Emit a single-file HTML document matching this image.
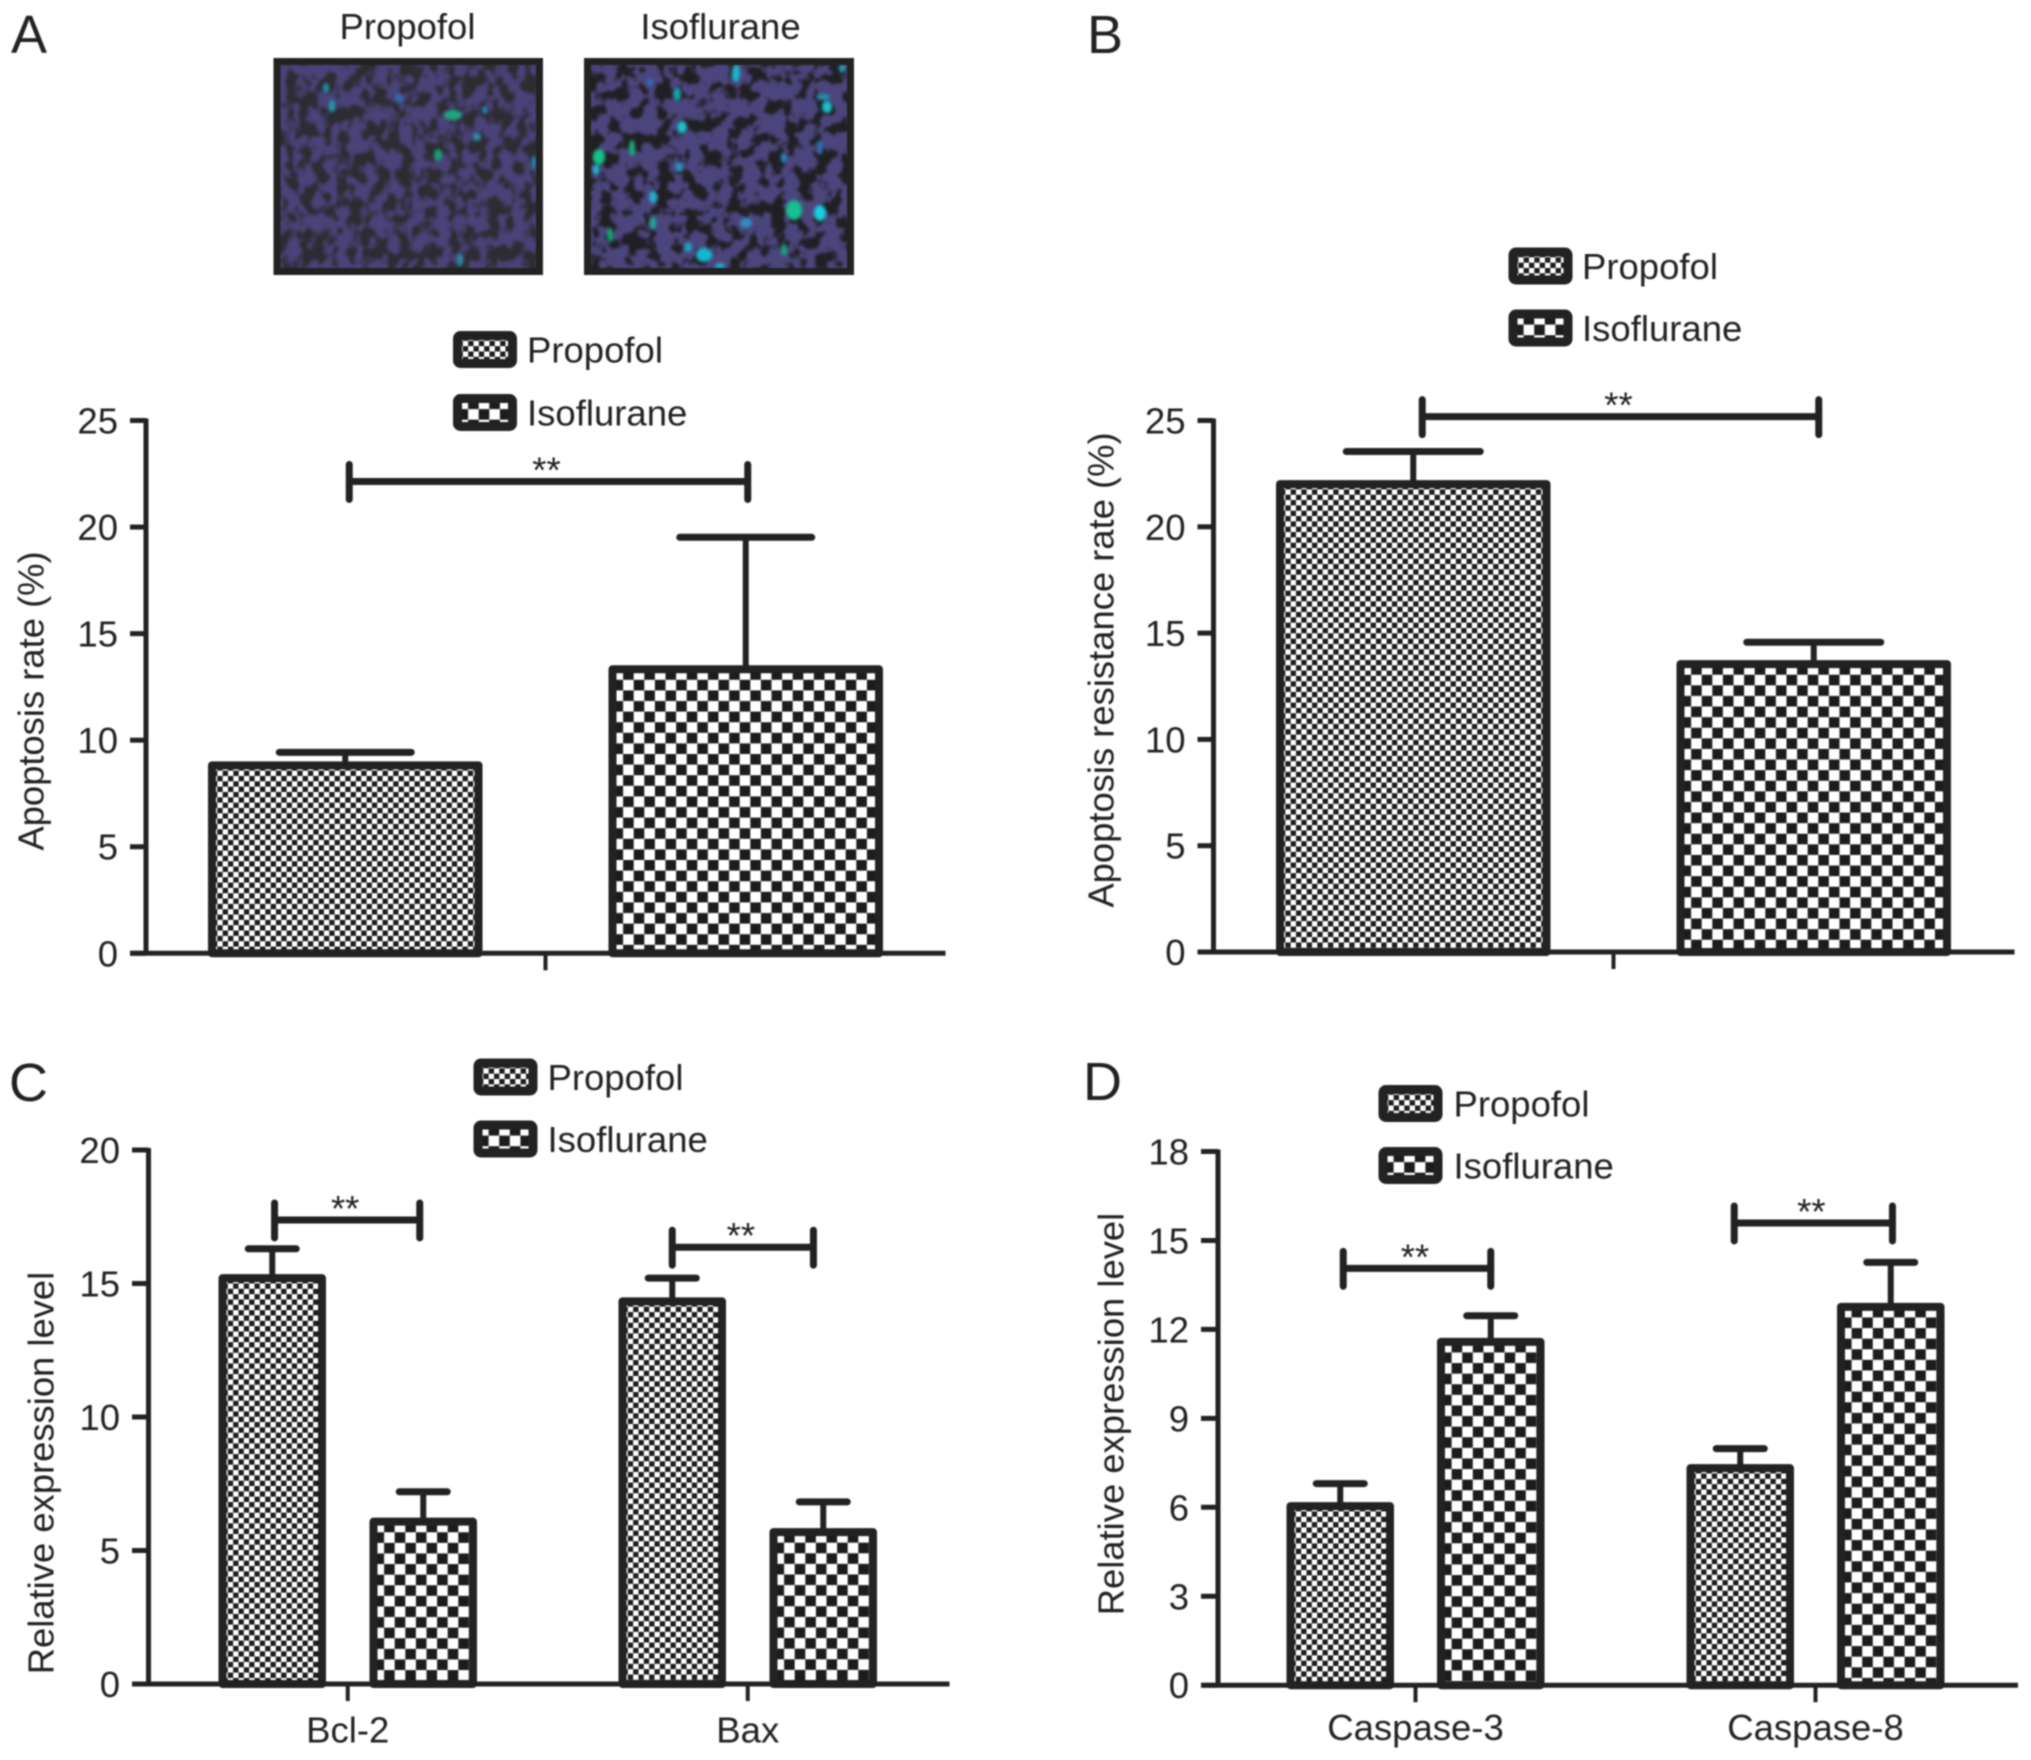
<!DOCTYPE html>
<html lang="en">
<head>
<meta charset="utf-8">
<title>Apoptosis and expression charts</title>
<style>
html,body{margin:0;padding:0;background:#fff;}
#figure{display:block;width:2031px;height:1760px;filter:blur(0.7px);}
text{font-family:"Liberation Sans",Arial,sans-serif;fill:#222;font-size:36.5px;}
.letter{font-size:54px;}
.ytitle{font-size:36.4px;}
</style>
</head>
<body>
<svg id="figure" xmlns="http://www.w3.org/2000/svg" width="2031" height="1760" viewBox="0 0 2031 1760">
<defs>
<filter id="cellsA" x="0" y="0" width="100%" height="100%" color-interpolation-filters="sRGB">
<feTurbulence type="fractalNoise" baseFrequency="0.08 0.065" numOctaves="2" seed="4"/>
<feColorMatrix type="matrix" values="0 0 0 0 0.29  0 0 0 0 0.26  0 0 0 0 0.47  6 0 0 0 -2.4"/>
<feGaussianBlur stdDeviation="1.2"/>
</filter>
<filter id="cellsB" x="0" y="0" width="100%" height="100%" color-interpolation-filters="sRGB">
<feTurbulence type="fractalNoise" baseFrequency="0.07 0.06" numOctaves="3" seed="11"/>
<feColorMatrix type="matrix" values="0 0 0 0 0.30  0 0 0 0 0.27  0 0 0 0 0.49  9 0 0 0 -3.6"/>
<feGaussianBlur stdDeviation="1.2"/>
</filter>
<filter id="soft" x="-50%" y="-50%" width="200%" height="200%"><feGaussianBlur stdDeviation="1.6"/></filter>
<clipPath id="clipMicroA"><rect x="273.5" y="58" width="269.5" height="217"/></clipPath>
<clipPath id="clipMicroB"><rect x="584" y="58" width="270" height="217"/></clipPath>
</defs>
<rect width="2031" height="1760" fill="#fff"/>

<text class="letter" x="11" y="53">A</text>
<text class="letter" x="1087" y="53">B</text>
<text class="letter" x="9" y="1101">C</text>
<text class="letter" x="1083" y="1100">D</text>

<text x="407.5" y="39" text-anchor="middle">Propofol</text>
<text x="720.5" y="39" text-anchor="middle">Isoflurane</text>

<g id="microA" clip-path="url(#clipMicroA)">
<rect x="273.5" y="58" width="269.5" height="217" fill="#2d2c33"/>
<rect x="273.5" y="58" width="269.5" height="217" filter="url(#cellsA)"/>
<g id="spotsA" filter="url(#soft)" transform="translate(-1 0)"></g>
</g>
<rect x="277" y="61.5" width="262.5" height="210" fill="none" stroke="#222" stroke-width="7"/>

<g id="microB" clip-path="url(#clipMicroB)">
<rect x="584" y="58" width="270" height="217" fill="#202024"/>
<rect x="584" y="58" width="270" height="217" filter="url(#cellsB)"/>
<g id="spotsB" filter="url(#soft)" transform="translate(-4 0)"></g>
</g>
<rect x="587.5" y="61.5" width="263" height="210" fill="none" stroke="#222" stroke-width="7"/>

<g id="charts"></g>
</svg>
<script>
// ---- Panel A data ----
const aCategories = [''];
const aPropofol = [8.82];
const aPropofolErr = [9.43];
const aIsoflurane = [13.33];
const aIsofluraneErr = [19.52];
const aSignificance = [22.14];
const aTickLabels = ['0', '5', '10', '15', '20', '25'];

// ---- Panel B data ----
const bCategories = [''];
const bPropofol = [22.01];
const bPropofolErr = [23.54];
const bIsoflurane = [13.54];
const bIsofluraneErr = [14.57];
const bSignificance = [25.18];
const bTickLabels = ['0', '5', '10', '15', '20', '25'];

// ---- Panel C data ----
const cCategories = ['Bcl-2', 'Bax'];
const cPropofol = [15.2, 14.33];
const cPropofolErr = [16.3, 15.2];
const cIsoflurane = [6.08, 5.69];
const cIsofluraneErr = [7.2, 6.82];
const cSignificance = [17.38, 16.36];
const cTickLabels = ['0', '5', '10', '15', '20'];

// ---- Panel D data ----
const dCategories = ['Caspase-3', 'Caspase-8'];
const dPropofol = [6.04, 7.32];
const dPropofolErr = [6.8, 7.98];
const dIsoflurane = [11.58, 12.76];
const dIsofluraneErr = [12.46, 14.26];
const dSignificance = [14.06, 15.59];
const dTickLabels = ['0', '3', '6', '9', '12', '15', '18'];

// ---- Layout per panel ----
const panels = [
  {id:'a', title:'Apoptosis rate (%)', categories:aCategories, propofol:aPropofol, propofolErr:aPropofolErr, isoflurane:aIsoflurane, isofluraneErr:aIsofluraneErr, significance:aSignificance, ticks:aTickLabels,
   axisX:146, tickLeft:130, axisRight:945.5, y0:953.3, yTop:420.5, barStart:212, seriesStep:400.5, catStep:0, barW:266.5, capW:138, nudge:[[4,2]],
   titleX:34, titleY:701, catBaseline:0, legendX:453, legendY:[331,394], legendTextX:527},
  {id:'b', title:'Apoptosis resistance rate (%)', categories:bCategories, propofol:bPropofol, propofolErr:bPropofolErr, isoflurane:bIsoflurane, isofluraneErr:bIsofluraneErr, significance:bSignificance, ticks:bTickLabels,
   axisX:1213.5, tickLeft:1197.5, axisRight:2014.5, y0:952, yTop:420.5, barStart:1280, seriesStep:400.5, catStep:0, barW:266.5, capW:140, nudge:[[9,5]],
   titleX:1104, titleY:670, catBaseline:0, legendX:1508.5, legendY:[247.5,309.5], legendTextX:1582},
  {id:'c', title:'Relative expression level', categories:cCategories, propofol:cPropofol, propofolErr:cPropofolErr, isoflurane:cIsoflurane, isofluraneErr:cIsofluraneErr, significance:cSignificance, ticks:cTickLabels,
   axisX:148.5, tickLeft:132, axisRight:949.5, y0:1684, yTop:1150, barStart:222.5, seriesStep:151, catStep:400, barW:99.5, capW:54, nudge:[[2.3,-3.5],[0,-9.8]],
   titleX:44, titleY:1473, catBaseline:1742.5, legendX:473.5, legendY:[1058.5,1120.5], legendTextX:547.5},
  {id:'d', title:'Relative expression level', categories:dCategories, propofol:dPropofol, propofolErr:dPropofolErr, isoflurane:dIsoflurane, isofluraneErr:dIsofluraneErr, significance:dSignificance, ticks:dTickLabels,
   axisX:1218, tickLeft:1201, axisRight:2018, y0:1685.2, yTop:1151.5, barStart:1290.5, seriesStep:150.5, catStep:400, barW:99.5, capW:54, nudge:[[3,0],[-6,1.7]],
   titleX:1114, titleY:1414, catBaseline:1740, legendX:1378.5, legendY:[1085,1147], legendTextX:1453.5}
];

const INK = '#222';
const FINE_CELL = 5.33;
const COARSE_CELL = 10.6;
const NS = 'http://www.w3.org/2000/svg';
const svg = document.getElementById('figure');
const defs = svg.querySelector('defs');
const root = document.getElementById('charts');

function svgEl(tag, attrs, parent) {
  const el = document.createElementNS(NS, tag);
  for (const k in attrs) el.setAttribute(k, attrs[k]);
  if (parent) parent.appendChild(el);
  return el;
}

let patternCount = 0;
function checker(cell, ox, oy) {
  patternCount += 1;
  const id = 'pat' + patternCount;
  const p = svgEl('pattern', {id: id, patternUnits: 'userSpaceOnUse', x: ox, y: oy, width: cell * 2, height: cell * 2}, defs);
  svgEl('rect', {width: cell * 2, height: cell * 2, fill: '#fff'}, p);
  svgEl('rect', {x: cell, y: 0, width: cell, height: cell, fill: '#1c1c1c'}, p);
  svgEl('rect', {x: 0, y: cell, width: cell, height: cell, fill: '#1c1c1c'}, p);
  return 'url(#' + id + ')';
}

function drawPanel(P) {
  const g = svgEl('g', {}, root);
  
  

  const maxTick = Number(P.ticks[P.ticks.length - 1]);
  const yScale = v => P.y0 - (v / maxTick) * (P.y0 - P.yTop);
  const xScale = (cat, series) => P.barStart + cat * P.catStep + series * P.seriesStep;
  const catCenter = cat => (xScale(cat, 0) + xScale(cat, 1) + P.barW) / 2;

  // y title
  const title = svgEl('text', {class: 'ytitle', x: P.titleX, y: P.titleY, 'text-anchor': 'middle', 'dominant-baseline': 'middle', transform: 'rotate(-90 ' + P.titleX + ' ' + P.titleY + ')'}, g);
  
  
  title.textContent = P.title;

  // series: whiskers then bars
  const seriesDefs = [
    {key: 'propofol', values: P.propofol, errs: P.propofolErr, cell: FINE_CELL, idx: 0},
    {key: 'isoflurane', values: P.isoflurane, errs: P.isofluraneErr, cell: COARSE_CELL, idx: 1}
  ];
  seriesDefs.forEach(s => {
    s.values.forEach((v, c) => {
      const left = xScale(c, s.idx);
      const mid = left + P.barW / 2;
      const top = yScale(v);
      const errY = yScale(s.errs[c]);

      const stem = svgEl('line', {x1: mid, x2: mid, y1: top, y2: errY, stroke: INK, 'stroke-width': 6}, g);
      
      

      const cap = svgEl('line', {x1: mid - P.capW / 2 + 3, x2: mid + P.capW / 2 - 3, y1: errY, y2: errY, stroke: INK, 'stroke-width': 7, 'stroke-linecap': 'round'}, g);
      
      

      const bar = svgEl('rect', {x: left, y: top, width: P.barW, height: P.y0 - top, fill: checker(s.cell, left, top), stroke: INK, 'stroke-width': 8, 'stroke-linejoin': 'round'}, g);
      
      
    });
  });

  // axes
  const yAxis = svgEl('line', {x1: P.axisX, x2: P.axisX, y1: P.yTop - 2, y2: P.y0 + 2, stroke: INK, 'stroke-width': 5}, g);
  
  

  const xAxis = svgEl('line', {x1: P.tickLeft, x2: P.axisRight, y1: P.y0, y2: P.y0, stroke: INK, 'stroke-width': 5}, g);
  
  

  P.ticks.forEach(label => {
    const y = yScale(Number(label));
    const tick = svgEl('line', {x1: P.tickLeft, x2: P.axisX, y1: y, y2: y, stroke: INK, 'stroke-width': 5}, g);
    
    

    const t = svgEl('text', {x: P.tickLeft - 12, y: y + 13, 'text-anchor': 'end'}, g);
    
    
    t.textContent = label;
  });

  P.categories.forEach((name, c) => {
    const x = catCenter(c);
    const tick = svgEl('line', {x1: x, x2: x, y1: P.y0, y2: P.y0 + 17, stroke: INK, 'stroke-width': 4}, g);
    
    

    if (name) {
      const t = svgEl('text', {x: x, y: P.catBaseline, 'text-anchor': 'middle'}, g);
      
      
      t.textContent = name;
    }
  });

  // significance brackets
  P.significance.forEach((level, c) => {
    const y = yScale(level);
    const x1 = xScale(c, 0) + P.barW / 2 + P.nudge[c][0];
    const x2 = xScale(c, 1) + P.barW / 2 + P.nudge[c][1];

    const bracket = svgEl('path', {d: 'M' + x1 + ' ' + (y - 17) + 'V' + (y + 18) + 'M' + x1 + ' ' + y + 'H' + x2 + 'M' + x2 + ' ' + (y - 17) + 'V' + (y + 18), fill: 'none', stroke: INK, 'stroke-width': 7, 'stroke-linecap': 'round'}, g);
    
    

    const stars = svgEl('text', {x: (x1 + x2) / 2 - 2, y: y + 1, 'text-anchor': 'middle'}, g);
    
    
    stars.textContent = '**';
  });

  // legend
  const legendNames = ['Propofol', 'Isoflurane'];
  const legendCells = [FINE_CELL, COARSE_CELL];
  legendNames.forEach((name, i) => {
    const y = P.legendY[i];
    const swatch = svgEl('rect', {x: P.legendX + 4.5, y: y + 4.5, width: 55, height: 28, rx: 3, fill: checker(legendCells[i], P.legendX + 4.5, y + 4.5), stroke: INK, 'stroke-width': 9}, g);
    
    

    const t = svgEl('text', {x: P.legendTextX, y: y + 31.5}, g);
    
    
    t.textContent = name;
  });
}

panels.forEach(drawPanel);

// ---- Micrograph fluorescent spots (x, y, rx, ry, colour) ----
const spotsPropofol = [
  [454,115,9,5,'#1fa87c'],[333,106,3,6,'#1f9fb0'],[439,155,4,6,'#18a070'],[478,137,4,4,'#2a8fb0'],
  [327,88,3,5,'#2590a8'],[461,260,3,6,'#2590a8'],[535,163,3,7,'#2c7fa8'],[400,98,4,4,'#2f6fb0'],[486,110,3,4,'#2c80b0']
];
const spotsIsoflurane = [
  [740,73,4,9,'#1fb4c8'],[681,94,4,7,'#1f9fb0'],[831,107,5,6,'#1fc0d0'],[686,127,5,6,'#22c0d0'],
  [603,157,6,8,'#12c088'],[636,148,3,8,'#14b080'],[600,170,3,5,'#16c0d8'],[683,167,4,5,'#2a90c0'],
  [657,197,4,6,'#20b0d0'],[798,210,8,10,'#12c090'],[824,213,6,8,'#18d0e0'],[750,223,6,5,'#2a90c0'],
  [657,223,3,6,'#14b090'],[614,235,3,7,'#10a870'],[708,255,8,7,'#18b8d0'],[692,247,4,5,'#20a0c0'],
  [788,250,3,6,'#10a880'],[724,266,5,3,'#18b0c8'],[827,97,7,3,'#2090b0'],[654,82,3,4,'#2a70c0'],
  [824,147,3,7,'#2a70b8'],[788,158,3,5,'#2a80c0'],[846,68,3,5,'#20a0b0']
];
function drawSpots(list, holder, label) {
  list.forEach((s, i) => {
    const e = svgEl('ellipse', {cx: s[0], cy: s[1], rx: s[2], ry: s[3], fill: s[4]}, holder);
    
    
  });
}
drawSpots(spotsPropofol, document.getElementById('spotsA'), 'propofol');
drawSpots(spotsIsoflurane, document.getElementById('spotsB'), 'isoflurane');
</script>
</body>
</html>
